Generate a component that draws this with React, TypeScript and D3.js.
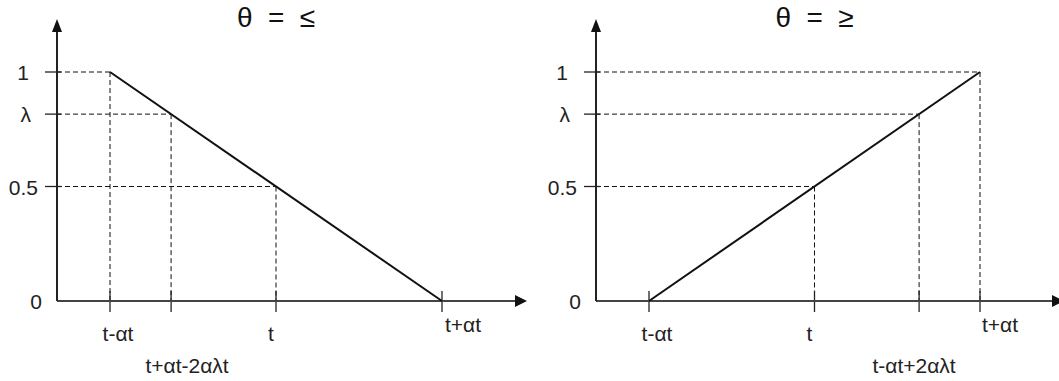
import React from "react";
import * as d3 from "d3";

// ---- data ----
const LAMBDA = 0.816;
const yTickValues = [0, 0.5, LAMBDA, 1];
const yTickLabels = ["0", "0.5", "λ", "1"];

const leftTitle = "θ = ≤";
const leftXTickValues = [-1, -0.632, 0, 1];
const leftXTickLabels = ["t-αt", "t+αt-2αλt", "t", "t+αt"];
const leftLine: [number, number][] = [[-1, 1], [1, 0]];
const leftGuides: [number, number][] = [[-1, 1], [-0.632, LAMBDA], [0, 0.5]];

const rightTitle = "θ = ≥";
const rightXTickValues = [-1, 0, 0.632, 1];
const rightXTickLabels = ["t-αt", "t", "t-αt+2αλt", "t+αt"];
const rightLine: [number, number][] = [[-1, 0], [1, 1]];
const rightGuides: [number, number][] = [[0, 0.5], [0.632, LAMBDA], [1, 1]];

// ---- layout ----
const W = 1059, H = 381;
const FONT = "'Liberation Sans', Arial, sans-serif";
const yScale = d3.scaleLinear().domain([0, 1]).range([301, 72]);

type LabelPos = { dx: number; y: number; anchor: string };

type PanelProps = {
  title: string;
  axisX: number;
  x0: number;
  x1: number;
  tipX: number;
  ticks: number[];
  labels: string[];
  labelPos: LabelPos[];
  line: [number, number][];
  guides: [number, number][];
};

const yLabelRight: Record<string, number> = { "0": -15, "0.5": -19, "λ": -26, "1": -28 };

function Panel(p: PanelProps) {
  const x = d3.scaleLinear().domain([-1, 1]).range([p.x0, p.x1]);
  const y = (v: number) => yScale(v);
  const y0 = y(0);
  const lineGen = d3.line<[number, number]>().x((d) => x(d[0])).y((d) => y(d[1]));
  const tMid = x(0);
  return (
    <g>
      <text x={tMid} y={27} fontSize={28} textAnchor="middle" fontFamily={FONT} fill="#111"
        textLength={78} lengthAdjust="spacing">{p.title}</text>
      {/* dashed guides */}
      {p.guides.map(([gx, gy], i) => (
        <g key={"g" + i} stroke="#111" strokeWidth={1} strokeDasharray="5,3" fill="none">
          <line x1={p.axisX} y1={y(gy)} x2={x(gx)} y2={y(gy)} />
          <line x1={x(gx)} y1={y(gy)} x2={x(gx)} y2={y0} />
        </g>
      ))}
      {/* y ticks */}
      {yTickValues.map((v, i) => (
        <g key={"yt" + i}>
          {v > 0 && (
            <line x1={p.axisX - 12} x2={p.axisX + 4} y1={y(v)} y2={y(v)} stroke="#222" strokeWidth={1.3} />
          )}
          <text x={p.axisX + yLabelRight[yTickLabels[i]]} y={y(v) + 8} fontSize={21}
            textAnchor="end" fontFamily={FONT} fill="#222">{yTickLabels[i]}</text>
        </g>
      ))}
      {/* x ticks */}
      {p.ticks.map((v, i) => (
        <g key={"xt" + i}>
          <line x1={x(v)} x2={x(v)} y1={y0 - 10} y2={y0 + 11} stroke="#222" strokeWidth={1.3} />
          <text x={x(v) + p.labelPos[i].dx} y={p.labelPos[i].y} fontSize={21}
            textAnchor={p.labelPos[i].anchor} fontFamily={FONT} fill="#222">{p.labels[i]}</text>
        </g>
      ))}
      {/* axes */}
      <line x1={p.axisX} y1={y0} x2={p.tipX - 10} y2={y0} stroke="#444" strokeWidth={2} />
      <path d={`M${p.tipX},${y0} L${p.tipX - 12},${y0 - 6} L${p.tipX - 12},${y0 + 6} Z`} fill="#111" />
      <line x1={p.axisX} y1={y0} x2={p.axisX} y2={28} stroke="#222" strokeWidth={2} />
      <path d={`M${p.axisX},19 L${p.axisX - 5},32 L${p.axisX + 5},32 Z`} fill="#111" />
      {/* main line */}
      <path d={lineGen(p.line) || ""} stroke="#111" strokeWidth={2} fill="none" />
    </g>
  );
}

export default function App() {
  return (
    <svg width={W} height={H} style={{ position: "absolute", left: 0, top: 0, background: "#fff" }}>
      <rect width={W} height={H} fill="#fff" />
      <Panel
        title={leftTitle}
        axisX={57}
        x0={110}
        x1={442}
        tipX={527}
        ticks={leftXTickValues}
        labels={leftXTickLabels}
        labelPos={[
          { dx: 8, y: 341, anchor: "middle" },
          { dx: 16, y: 373, anchor: "middle" },
          { dx: -5, y: 341, anchor: "middle" },
          { dx: 3, y: 332, anchor: "start" },
        ]}
        line={leftLine}
        guides={leftGuides}
      />
      <Panel
        title={rightTitle}
        axisX={596}
        x0={649}
        x1={980}
        tipX={1064}
        ticks={rightXTickValues}
        labels={rightXTickLabels}
        labelPos={[
          { dx: 8, y: 341, anchor: "middle" },
          { dx: -5, y: 341, anchor: "middle" },
          { dx: -5, y: 373, anchor: "middle" },
          { dx: 2, y: 332, anchor: "start" },
        ]}
        line={rightLine}
        guides={rightGuides}
      />
    </svg>
  );
}
